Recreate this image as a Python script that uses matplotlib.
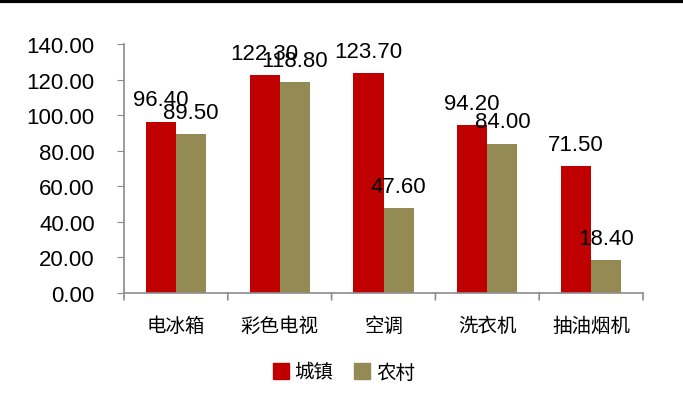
import numpy as np
import matplotlib.pyplot as plt
from matplotlib.lines import Line2D

plt.rcParams['font.family'] = ['Liberation Sans', 'Noto Sans CJK SC', 'DejaVu Sans']

categories = ['电冰箱', '彩色电视', '空调', '洗衣机', '抽油烟机']
urban = [96.40, 122.30, 123.70, 94.20, 71.50]
rural = [89.50, 118.80, 47.60, 84.00, 18.40]
series_names = ['城镇', '农村']
colors = ['#C00000', '#948A54']

fig = plt.figure(figsize=(6.83, 4.10), dpi=100)
ax = fig.add_axes([124 / 683, 1 - 294 / 410, 519 / 683, 249 / 410])

x = np.arange(len(categories))
w = 0.29
b1 = ax.bar(x - w / 2, urban, w, color=colors[0])
b2 = ax.bar(x + w / 2, rural, w, color=colors[1])

for bars in (b1, b2):
    for rect in bars:
        h = rect.get_height()
        ax.annotate(f'{h:.2f}', (rect.get_x() + rect.get_width() / 2, h),
                    xytext=(0, 8), textcoords='offset points',
                    ha='center', va='bottom', fontsize=16)

ax.set_ylim(0, 140)
ax.set_yticks(np.arange(0, 141, 20))
ax.set_yticklabels([f'{v:.2f}' for v in np.arange(0, 141, 20)], fontsize=16)
ax.set_xlim(-0.5, len(categories) - 0.5)
ax.set_xticks([])
for i, c in enumerate(categories):
    ax.annotate(c, (i, 0), xytext=(0, -16), textcoords='offset points',
                ha='center', va='top', fontsize=14, family=['Noto Sans CJK SC'])

for s in ['top', 'right']:
    ax.spines[s].set_visible(False)
for s in ['left', 'bottom']:
    ax.spines[s].set_color('#8c8c8c')
    ax.spines[s].set_linewidth(1.2)
ax.tick_params(axis='y', color='#8c8c8c', length=5, pad=16)
# category boundary ticks pointing down
for xi in np.arange(-0.5, len(categories), 1.0):
    ax.annotate('', (xi, 0), xytext=(0, -5), textcoords='offset points',
                arrowprops=dict(arrowstyle='-', color='#8c8c8c', lw=1.2,
                                shrinkA=0, shrinkB=0))

handles = [Line2D([], [], marker='s', ls='', color=c, markersize=11) for c in colors]
fig.legend(handles, series_names, loc='center', bbox_to_anchor=(343 / 683, 1 - 373 / 410),
           ncol=2, frameon=False, prop={'family': 'Noto Sans CJK SC', 'size': 14},
           handletextpad=0.2, columnspacing=1.0, handlelength=1.0)

fig.add_artist(Line2D([0, 1], [0.996, 0.996], color='black', lw=3, transform=fig.transFigure))

fig.savefig('out.png', dpi=100)
